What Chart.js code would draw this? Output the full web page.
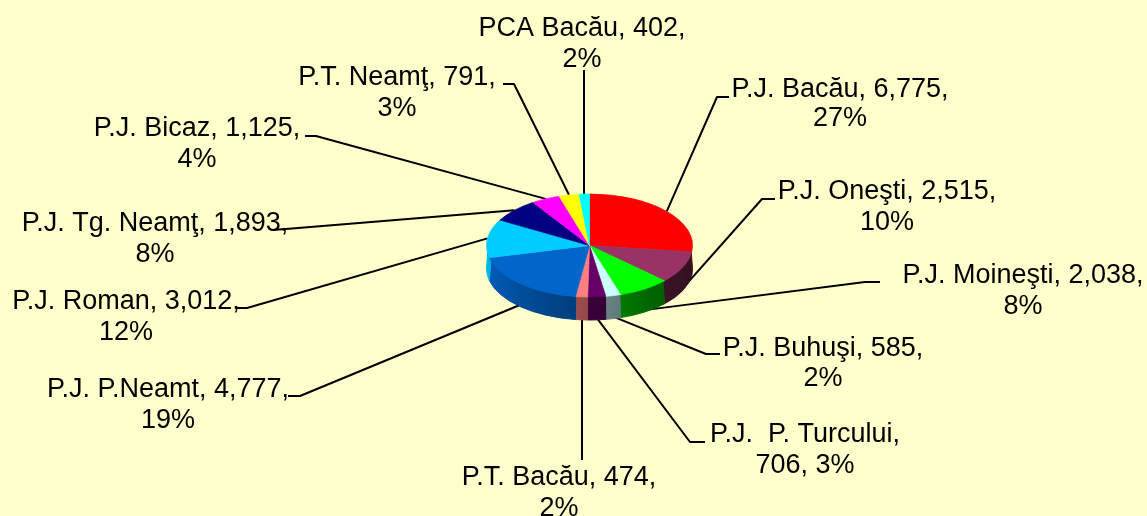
<!DOCTYPE html>
<html><head><meta charset="utf-8">
<style>html,body{margin:0;padding:0;background:#FFFFCC;overflow:hidden}canvas{display:block}</style>
<script src="https://cdn.jsdelivr.net/npm/chart.js@4"></script>
</head><body><canvas id="c" width="1147" height="516"></canvas>
<script>
const categories=["P.J. Bacău","P.J. Oneşti","P.J. Moineşti","P.J. Buhuşi","P.J.  P. Turcului","P.T. Bacău","P.J. P.Neamt","P.J. Roman","P.J. Tg. Neamţ","P.J. Bicaz","P.T. Neamţ","PCA Bacău"];
const values=[6775,2515,2038,585,706,474,4777,3012,1893,1125,791,402];
const percents=[27,10,8,2,3,2,19,12,8,4,3,2];
const colors=["#FF0000","#993366","#00FF00","#CCFFFF","#660066","#FF8080","#0066CC","#00CCFF","#000080","#FF00FF","#FFFF00","#00FFFF"];

// label layout: centre x, line y's, leader elbow, leader end (null = none)
const labelLayout=[
 {x:840,y:[90,119],elbow:[717,97],end:[729,97]},
 {x:887,y:[192,223],elbow:[762,199],end:[775,199],wall:1},
 {x:1023,y:[276,307],elbow:[865,282],end:[880,282],wall:1},
 {x:823,y:[349,379],elbow:[706,354],end:[720,354],wall:1},
 {x:805,y:[435,466],elbow:[690,442],end:[705,442],wall:1},
 {x:559,y:[478,509],elbow:[582,460],wall:1},
 {x:168,y:[390,421],elbow:[300,396],end:[288,396],wall:1},
 {x:126,y:[302,333],elbow:[247,308],end:[235,308]},
 {x:155,y:[224,255],elbow:[286,229],end:[272,230]},
 {x:197,y:[129,160],elbow:[316,136],end:[305,136]},
 {x:397,y:[78,109],elbow:[514,84],end:[503,84]},
 {x:582,y:[29,60],elbow:[584,70]}
];
const SQUASH=0.5, DEPTH=23, FONT='27px "Liberation Sans", Arial, sans-serif';
const wallStops=[[0,.9],[.17,.75],[.45,.6],[.6,.5],[.8,.4],[1,.33]];
function rgb(hex,f){const n=parseInt(hex.slice(1),16);return `rgb(${Math.round((n>>16&255)*f)},${Math.round((n>>8&255)*f)},${Math.round((n&255)*f)})`;}
function fmt(v){return v.toLocaleString('en-US');}
function lines(i){
  if(i===4) return [categories[i]+",",fmt(values[i])+", "+percents[i]+"%"];
  return [categories[i]+", "+fmt(values[i])+",",percents[i]+"%"];
}
const pie3d={
 id:'pie3d',
 beforeDatasetsDraw(chart){
  const ctx=chart.ctx,arcs=chart.getDatasetMeta(0).data;
  const cx=arcs[0].x,cy=arcs[0].y,r=arcs[0].outerRadius,ry=r*SQUASH;
  // leader lines
  ctx.save();ctx.strokeStyle='#000';ctx.lineWidth=2;ctx.lineJoin='round';
  arcs.forEach((a,i)=>{
   const m=(a.startAngle+a.endAngle)/2,l=labelLayout[i];
   const px=cx+r*Math.cos(m),py=cy+ry*Math.sin(m)+(l.wall?DEPTH-2:0);
   ctx.beginPath();ctx.moveTo(l.end?px:l.elbow[0],py);ctx.lineTo(l.elbow[0],l.elbow[1]);
   if(l.end)ctx.lineTo(l.end[0],l.end[1]);ctx.stroke();
  });
  ctx.restore();
  ctx.save();
  ctx.filter='blur(0.7px)';
  // side wall (upper edge tucked under the top face so the blur leaves no seam)
  arcs.forEach((a,i)=>{
   const lo=Math.max(a.startAngle,0),hi=Math.min(a.endAngle,Math.PI);
   if(hi<=lo)return;
   const g=ctx.createLinearGradient(cx-r,0,cx+r,0);
   wallStops.forEach(s=>g.addColorStop(s[0],rgb(colors[i],s[1])));
   ctx.beginPath();
   ctx.ellipse(cx,cy-3,r-2,ry,0,lo,hi,false);
   ctx.ellipse(cx,cy+DEPTH,r,ry,0,hi,lo,true);
   ctx.closePath();ctx.fillStyle=g;ctx.strokeStyle=g;ctx.lineWidth=1;ctx.fill();ctx.stroke();
  });
  ctx.translate(cx,cy);ctx.scale(1,SQUASH);ctx.translate(-cx,-cy);
 },
 afterDatasetsDraw(chart){
  const ctx=chart.ctx;
  ctx.restore();
  ctx.save();
  ctx.filter='blur(0.35px)';
  ctx.font=FONT;ctx.fillStyle='#000';ctx.textAlign='center';ctx.textBaseline='middle';
  labelLayout.forEach((l,i)=>{lines(i).forEach((t,k)=>ctx.fillText(t,l.x,l.y[k]));});
  ctx.restore();
 }
};
new Chart(document.getElementById('c'),{
 type:'pie',
 data:{labels:categories,datasets:[{data:values,backgroundColor:colors,borderColor:colors,borderWidth:1,borderAlign:'center',clip:false}]},
 options:{responsive:false,animation:false,
  layout:{padding:{left:486,right:454,top:142,bottom:167}},
  plugins:{legend:{display:false},tooltip:{enabled:false}}},
 plugins:[pie3d]
});
</script></body></html>
